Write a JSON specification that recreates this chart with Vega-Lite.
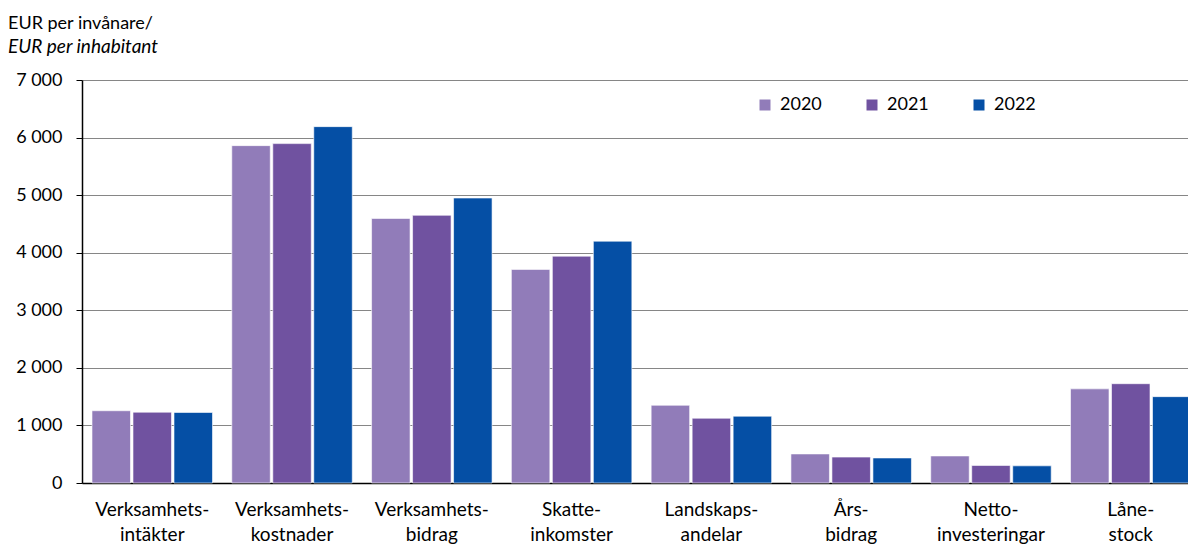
{
  "$schema": "https://vega.github.io/schema/vega-lite/v6.json",
  "autosize": {"type": "none"},
  "width": 1106,
  "height": 403,
  "padding": {"left": 82, "top": 80, "right": 0, "bottom": 61},
  "background": "white",
  "title": {
    "text": "EUR per invånare/",
    "subtitle": "EUR per inhabitant",
    "anchor": "start",
    "frame": "group",
    "dx": -74,
    "offset": 14,
    "font": "Lato",
    "fontSize": 18,
    "fontWeight": "normal",
    "color": "#000000",
    "subtitleFont": "Lato",
    "subtitleFontSize": 19,
    "subtitleFontStyle": "italic",
    "subtitleColor": "#000000",
    "subtitlePadding": 5
  },
  "data": {
    "values": [
      {"category": "Verksamhets-|intäkter", "year": "2020", "value": 1255},
      {"category": "Verksamhets-|intäkter", "year": "2021", "value": 1230},
      {"category": "Verksamhets-|intäkter", "year": "2022", "value": 1225},
      {"category": "Verksamhets-|kostnader", "year": "2020", "value": 5860},
      {"category": "Verksamhets-|kostnader", "year": "2021", "value": 5895},
      {"category": "Verksamhets-|kostnader", "year": "2022", "value": 6190},
      {"category": "Verksamhets-|bidrag", "year": "2020", "value": 4595},
      {"category": "Verksamhets-|bidrag", "year": "2021", "value": 4650},
      {"category": "Verksamhets-|bidrag", "year": "2022", "value": 4950},
      {"category": "Skatte-|inkomster", "year": "2020", "value": 3710},
      {"category": "Skatte-|inkomster", "year": "2021", "value": 3940},
      {"category": "Skatte-|inkomster", "year": "2022", "value": 4200},
      {"category": "Landskaps-|andelar", "year": "2020", "value": 1350},
      {"category": "Landskaps-|andelar", "year": "2021", "value": 1125},
      {"category": "Landskaps-|andelar", "year": "2022", "value": 1160},
      {"category": "Års-|bidrag", "year": "2020", "value": 505},
      {"category": "Års-|bidrag", "year": "2021", "value": 450},
      {"category": "Års-|bidrag", "year": "2022", "value": 435},
      {"category": "Netto-|investeringar", "year": "2020", "value": 470},
      {"category": "Netto-|investeringar", "year": "2021", "value": 305},
      {"category": "Netto-|investeringar", "year": "2022", "value": 298},
      {"category": "Låne-|stock", "year": "2020", "value": 1635},
      {"category": "Låne-|stock", "year": "2021", "value": 1725},
      {"category": "Låne-|stock", "year": "2022", "value": 1500}
    ]
  },
  "mark": {"type": "bar", "stroke": "#ffffff", "strokeWidth": 0.6},
  "encoding": {
    "x": {
      "field": "category",
      "type": "nominal",
      "sort": null,
      "scale": {"range": [0, 1119], "paddingInner": 0.138, "paddingOuter": 0.0715},
      "axis": {
        "title": null,
        "labelAngle": 0,
        "labelExpr": "split(datum.label, '|')",
        "labelBaseline": "alphabetic",
        "labelPadding": 32,
        "labelLineHeight": 25,
        "ticks": false,
        "tickSize": 0,
        "domainColor": "#000000",
        "domainWidth": 1.5,
        "labelFont": "Lato",
        "labelFontSize": 19,
        "labelColor": "#000000",
        "grid": false
      }
    },
    "xOffset": {
      "field": "year",
      "type": "nominal",
      "scale": {"paddingInner": 0.061, "paddingOuter": 0}
    },
    "y": {
      "field": "value",
      "type": "quantitative",
      "scale": {"domain": [0, 7000], "nice": false},
      "axis": {
        "title": null,
        "values": [0, 1000, 2000, 3000, 4000, 5000, 6000, 7000],
        "format": ",.0f",
        "tickSize": 6,
        "tickColor": "#000000",
        "tickWidth": 1,
        "labelPadding": 14,
        "labelFont": "Lato",
        "labelFontSize": 18,
        "labelColor": "#000000",
        "domainColor": "#000000",
        "domainWidth": 1.5,
        "grid": true,
        "gridColor": "#868686",
        "gridWidth": 1.2
      }
    },
    "color": {
      "field": "year",
      "type": "nominal",
      "scale": {"domain": ["2020", "2021", "2022"], "range": ["#917cb9", "#7052a0", "#054fa5"]},
      "legend": {
        "orient": "none",
        "legendX": 674,
        "legendY": 16,
        "direction": "horizontal",
        "title": null,
        "symbolType": "square",
        "symbolSize": 121,
        "symbolStrokeWidth": 0,
        "symbolOpacity": 1,
        "labelFont": "Lato",
        "labelFontSize": 18,
        "labelColor": "#000000",
        "labelOffset": 6,
        "columnPadding": 41,
        "padding": 0
      }
    }
  },
  "config": {
    "view": {"stroke": null},
    "locale": {
      "number": {"decimal": ",", "thousands": " ", "grouping": [3], "currency": ["", " €"]}
    }
  }
}
